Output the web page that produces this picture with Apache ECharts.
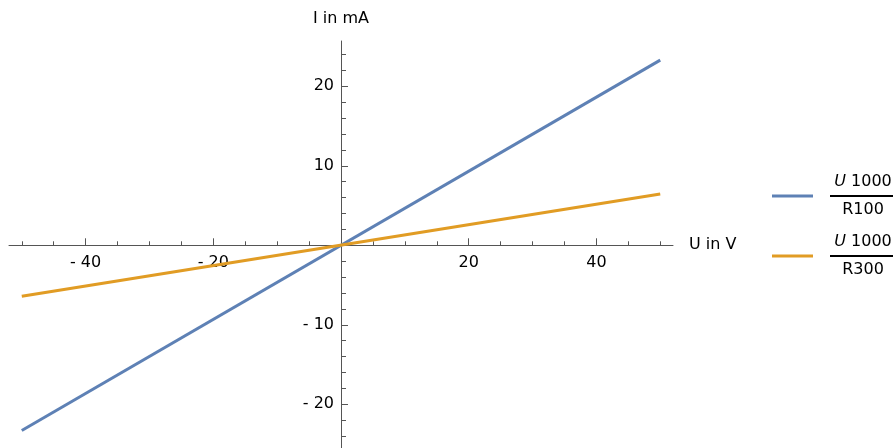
<!DOCTYPE html>
<html>
<head>
<meta charset="utf-8">
<script src="https://cdn.jsdelivr.net/npm/echarts@6/dist/echarts.min.js"></script>
<style>html,body{margin:0;padding:0;background:#fff}#c{width:893px;height:448px}</style>
</head>
<body>
<div id="c"></div>
<script>
const seriesNames = ['R100', 'R300'];
const blueData = [[-50, -23.3], [50, 23.3]];
const orangeData = [[-50, -6.42], [50, 6.45]];
const xMajor = [-40, -20, 20, 40];
const xMinor = [-50, -45, -35, -30, -25, -15, -10, -5, 5, 10, 15, 25, 30, 35, 45, 50];
const yMajor = [-20, -10, 10, 20];
const yMinor = [-24, -22, -18, -16, -14, -12, -8, -6, -4, -2, 2, 4, 6, 8, 12, 14, 16, 18, 22, 24];

const FONT = 'DejaVu Sans';
const AXC = '#555';
const fmt = v => v < 0 ? '- ' + (-v) : String(v);

const chart = echarts.init(document.getElementById('c'), null, {renderer: 'canvas'});
const xCommon = {type: 'value', min: -52, max: 52, position: 'bottom', splitLine: {show: false}};
const yCommon = {type: 'value', min: -25.5, max: 25.7, position: 'left', splitLine: {show: false}};

function buildOption(xOff, yOff) {
  return {
    animation: false,
    textStyle: {fontFamily: FONT},
    grid: {left: 9, right: 220, top: 41, bottom: 0, containLabel: false, outerBoundsMode: 'none'},
    xAxis: [
      Object.assign({}, xCommon, {
        offset: xOff,
        name: 'U in V', nameLocation: 'end', nameGap: 16,
        nameTextStyle: {fontFamily: FONT, fontSize: 16, color: '#000'},
        axisLine: {show: true, onZero: false, lineStyle: {color: AXC, width: 1}},
        axisTick: {show: true, inside: true, length: 7, customValues: xMajor, lineStyle: {color: AXC}},
        axisLabel: {show: true, customValues: xMajor, formatter: fmt, margin: 10, fontFamily: FONT, fontSize: 16, color: '#000'}
      }),
      Object.assign({}, xCommon, {
        offset: xOff,
        axisLine: {show: false, onZero: false},
        axisTick: {show: true, inside: true, length: 4, customValues: xMinor, lineStyle: {color: AXC}},
        axisLabel: {show: false}
      })
    ],
    yAxis: [
      Object.assign({}, yCommon, {
        offset: yOff,
        name: 'I in mA', nameLocation: 'end', nameGap: 14,
        nameTextStyle: {fontFamily: FONT, fontSize: 16, color: '#000', align: 'center'},
        axisLine: {show: true, onZero: false, lineStyle: {color: AXC, width: 1}},
        axisTick: {show: true, inside: true, length: 7, customValues: yMajor, lineStyle: {color: AXC}},
        axisLabel: {show: true, customValues: yMajor, formatter: fmt, margin: 7, fontFamily: FONT, fontSize: 16, color: '#000'}
      }),
      Object.assign({}, yCommon, {
        offset: yOff,
        axisLine: {show: false, onZero: false},
        axisTick: {show: true, inside: true, length: 5, customValues: yMinor, lineStyle: {color: AXC}},
        axisLabel: {show: false}
      })
    ],
    legend: {
      orient: 'vertical', left: 767, top: 169, itemGap: 16,
      icon: 'rect', itemWidth: 41, itemHeight: 3,
      data: seriesNames,
      formatter: name => '{i|U}{n| 1000}\n{b|}\n{d|' + name + '}',
      textStyle: {
        fontFamily: FONT, fontSize: 16, color: '#000', padding: [0, 0, 0, 12],
        rich: {
          i: {fontFamily: FONT, fontSize: 16, fontStyle: 'italic', color: '#000', lineHeight: 26, align: 'center'},
          n: {fontFamily: FONT, fontSize: 16, color: '#000', lineHeight: 26, align: 'center'},
          b: {width: 66, height: 2, lineHeight: 2, backgroundColor: '#000'},
          d: {fontFamily: FONT, fontSize: 16, color: '#000', lineHeight: 26, align: 'center'}
        }
      }
    },
    series: [
      {name: seriesNames[0], type: 'line', data: blueData, showSymbol: false, symbol: 'none',
       lineStyle: {color: '#5e81b5', width: 3}, itemStyle: {color: '#5e81b5'}},
      {name: seriesNames[1], type: 'line', data: orangeData, showSymbol: false, symbol: 'none',
       lineStyle: {color: '#e19c24', width: 3}, itemStyle: {color: '#e19c24'}}
    ]
  };
}
chart.setOption(buildOption(0, 0));
// Move axes to the origin using the library's own scales
const origin = chart.convertToPixel({gridIndex: 0}, [0, 0]);
const rect = chart.getModel().getComponent('grid').coordinateSystem.getRect();
const xOff = -(rect.y + rect.height - origin[1]);
const yOff = -(origin[0] - rect.x);
chart.setOption(buildOption(xOff, yOff), true);
</script>
</body>
</html>
